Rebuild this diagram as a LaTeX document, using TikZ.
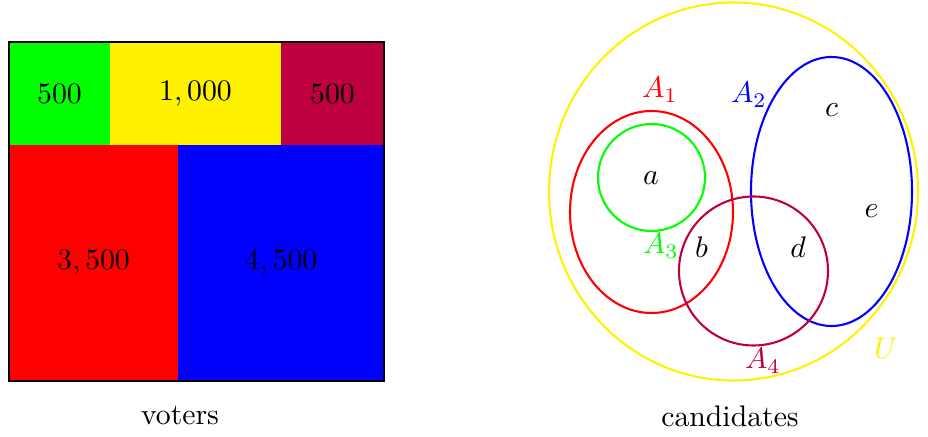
\documentclass[tikz,border=0pt]{standalone}
\usepackage{xcolor}
\definecolor{vyellow}{RGB}{255,242,0}
\definecolor{vpurple}{RGB}{191,0,64}
\begin{document}
\begin{tikzpicture}[x=0.336pt,y=-0.336pt,
  setline/.style={line width=0.7pt},
  lbl/.style={inner sep=0pt}]
\useasboundingbox (0,0) rectangle (928,437);
% voters
\fill[green] (9,42) rectangle (110,145);
\fill[vyellow] (110,42) rectangle (281,145);
\fill[vpurple] (281,42) rectangle (384,145);
\fill[red] (9,145) rectangle (178,381);
\fill[blue] (178,145) rectangle (384,381);
\draw[line width=0.7pt] (9,42) rectangle (384,381);
\node[lbl] (n1) at (59.5,93.5) {$500$};
\node[lbl] (n2) at (195.5,93.5) {$1,000$};
\node[lbl] (n3) at (332.5,93.5) {$500$};
\node[lbl] (n4) at (93.5,263) {$3,500$};
\node[lbl] (n5) at (281,263) {$4,500$};
\node[lbl] (voters) at (180,416) {voters};
% candidates
\draw[setline,vyellow] (733.5,191.5) ellipse [x radius=184.5, y radius=189];
\draw[setline,red] (651.5,212) ellipse [x radius=81.5, y radius=101];
\draw[setline,green] (651.5,177.5) circle [radius=53.5];
\draw[setline,blue] (831.5,191.5) ellipse [x radius=80.5, y radius=134.5];
\draw[setline,vpurple] (753.5,271) circle [radius=74.5];
\node[lbl,red] (A1) at (660,90) {$A_1$};
\node[lbl,blue] (A2) at (749,95) {$A_2$};
\node[lbl,green] (A3) at (661,246) {$A_3$};
\node[lbl,vpurple] (A4) at (763,361) {$A_4$};
\node[lbl,vyellow] (U) at (886,348) {$U$};
\node[lbl] (a) at (651,178) {$a$};
\node[lbl] (b) at (701.5,247) {$b$};
\node[lbl] (c) at (831.5,110) {$c$};
\node[lbl] (d) at (798,247) {$d$};
\node[lbl] (e) at (871.5,211) {$e$};
\node[lbl] (cand) at (730,416) {candidates};
\end{tikzpicture}
\end{document}
